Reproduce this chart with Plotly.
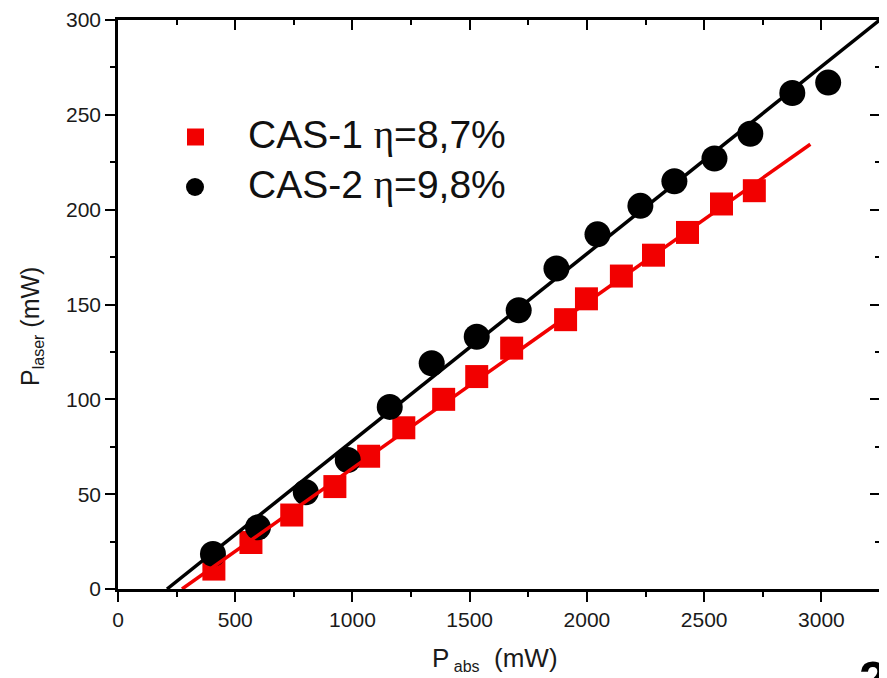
import plotly.graph_objects as go

# ---- data ----
cas1_x = [409, 567, 741, 925, 1069, 1219, 1389, 1530, 1679, 1909, 1998, 2147, 2284, 2429, 2574, 2714]
cas1_y = [10.5, 24.5, 39, 54, 70, 85, 100, 112, 127, 142, 153, 165, 176, 188, 203, 210]

cas2_x = [405, 597, 801, 980, 1159, 1338, 1530, 1709, 1870, 2045, 2228, 2373, 2544, 2697, 2876, 3029]
cas2_y = [18.5, 32.5, 51, 68, 96, 119, 133, 147, 169, 187, 202, 215, 227, 240, 261.5, 267]

fit1_x = [273, 2953]
fit1_y = [0, 234.5]
fit2_x = [209, 3249]
fit2_y = [0, 300]

legend_names = ["CAS-1", "CAS-2"]
legend_eta = ["8,7%", "9,8%"]

RED = "#f20000"
FONT = "Arial, Liberation Sans, sans-serif"
SERIF = "Liberation Serif, Times New Roman, serif"

fig = go.Figure()
fig.add_trace(go.Scatter(x=cas1_x, y=cas1_y, mode="markers",
                         marker=dict(symbol="square", size=23, color=RED),
                         showlegend=False, cliponaxis=False))
fig.add_trace(go.Scatter(x=cas2_x, y=cas2_y, mode="markers",
                         marker=dict(symbol="circle", size=26, color="black"),
                         showlegend=False, cliponaxis=False))
fig.add_trace(go.Scatter(x=fit1_x, y=fit1_y, mode="lines",
                         line=dict(color=RED, width=3.5), showlegend=False))
fig.add_trace(go.Scatter(x=fit2_x, y=fit2_y, mode="lines",
                         line=dict(color="black", width=3.5), showlegend=False))
# empty trace so the mirrored (top/right) axes get drawn
fig.add_trace(go.Scatter(x=[None], y=[None], xaxis="x2", yaxis="y2",
                         mode="markers", showlegend=False, hoverinfo="skip"))

XR = [0, 3250]
YR = [0, 300]
# the page body adds an 8px offset, so the figure is 8px smaller
OFF = 8
W, H = 887 - OFF, 678 - OFF
L, R, T, B = 118 - OFF, 7, 20 - OFF, 89
pw = W - L - R
ph = H - T - B

axis_common = dict(showline=True, linecolor="black", linewidth=2.5,
                   showgrid=False, zeroline=False, tickcolor="black",
                   tickwidth=2, ticklen=10, automargin=False,
                   tickfont=dict(family=FONT, size=21, color="#1a1a1a"))
axis_plain = {k: v for k, v in axis_common.items() if k != "tickfont"}

fig.update_layout(
    template="none",
    width=W, height=H,
    margin=dict(l=L, r=R, t=T, b=B),
    paper_bgcolor="white", plot_bgcolor="white",
    xaxis=dict(range=XR, dtick=500, tick0=0, ticks="outside",
               minor=dict(dtick=250, ticks="outside", ticklen=5, tickwidth=2, tickcolor="black"),
               **axis_common),
    yaxis=dict(range=YR, dtick=50, tick0=0, ticks="outside",
               minor=dict(dtick=25, ticks="outside", ticklen=5, tickwidth=2, tickcolor="black"),
               **axis_common),
    xaxis2=dict(range=XR, overlaying="x", side="top", anchor="y", dtick=500, tick0=0,
                ticks="inside", showticklabels=False,
                minor=dict(dtick=250, ticks="inside", ticklen=5, tickwidth=2, tickcolor="black"),
                **axis_plain),
    yaxis2=dict(range=YR, overlaying="y", side="right", anchor="x", dtick=50, tick0=0,
                ticks="inside", showticklabels=False,
                minor=dict(dtick=25, ticks="inside", ticklen=5, tickwidth=2, tickcolor="black"),
                **axis_plain),
)

def px_to_paper(xp, yp):
    # xp, yp are page pixels (window coordinates)
    return (xp - OFF - L) / pw, (H - B - (yp - OFF)) / ph

# axis titles
tx, ty = px_to_paper(495, 659)
fig.add_annotation(text="P<sub><span style='font-size:16px'> abs</span></sub>  (mW)",
                   xref="paper", yref="paper", x=tx, y=ty, xanchor="center", yanchor="middle",
                   showarrow=False, font=dict(family=FONT, size=26, color="#1a1a1a"))
yx, yy = px_to_paper(31, 327)
fig.add_annotation(text="P<sub><span style='font-size:16px'>laser</span></sub> (mW)",
                   xref="paper", yref="paper", x=yx, y=yy, xanchor="center", yanchor="middle",
                   textangle=-90, showarrow=False,
                   font=dict(family=FONT, size=25, color="#1a1a1a"))

# legend symbols
sx, sy = px_to_paper(195.5, 137)
fig.add_shape(type="rect", xref="paper", yref="paper", xsizemode="pixel", ysizemode="pixel",
              xanchor=sx, yanchor=sy, x0=-8.5, x1=8.5, y0=-8.5, y1=8.5,
              fillcolor=RED, line=dict(width=0))
cx, cy = px_to_paper(195, 187)
fig.add_shape(type="circle", xref="paper", yref="paper", xsizemode="pixel", ysizemode="pixel",
              xanchor=cx, yanchor=cy, x0=-9, x1=9, y0=-9, y1=9,
              fillcolor="black", line=dict(width=0))

for name, eta, ypix in zip(legend_names, legend_eta, [137, 187]):
    ax_, ay_ = px_to_paper(246, ypix - 2)
    label = f"{name} <span style='font-family:{SERIF}'>η</span>={eta}"
    fig.add_annotation(text=label, xref="paper", yref="paper", x=ax_, y=ay_,
                       xanchor="left", yanchor="middle", showarrow=False,
                       font=dict(family=FONT, size=39, color="#111111"))

# panel label "2" cut off at the bottom right
nx, ny = px_to_paper(857, 650)
fig.add_annotation(text="<b>2</b>", xref="paper", yref="paper", x=nx, y=ny,
                   xanchor="left", yanchor="top", showarrow=False,
                   font=dict(family=FONT, size=50, color="black"))

fig.write_html("out.html")
